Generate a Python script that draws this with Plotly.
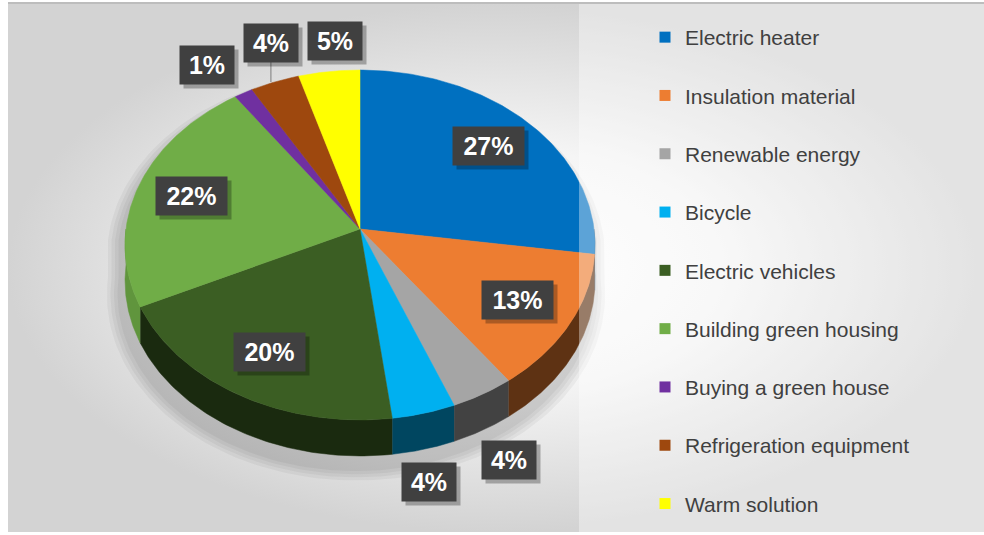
import numpy as np
import plotly.graph_objects as go

# ---------------- data ----------------
categories = ["Electric heater", "Insulation material", "Renewable energy", "Bicycle",
              "Electric vehicles", "Building green housing", "Buying a green house",
              "Refrigeration equipment", "Warm solution"]
values = [27.3, 12.7, 4.0, 4.0, 19.9, 22.4, 1.4, 3.7, 4.6]

# ---------------- style ----------------
colors = ["#0070C0", "#ED7D31", "#A5A5A5", "#00B0F0", "#3B5E23",
          "#70AD47", "#7030A0", "#9E480E", "#FFFF00"]
FONT = "Liberation Sans, Arial, sans-serif"
W, H = 984, 535
cx, cy, rx, ry, k, depth = 360, 229, 234, 173.5, 0.0914, 36

# label placement: ("in", r) inside at radius r, or ("out", dx, dy) from the slice edge
label_place = [("in", 0.76), ("in", 0.76), ("out", 26, 66), ("out", 5, 69),
               ("in", 0.76), ("in", 0.76), ("out", -37, -28), ("out", -4, -39),
               ("out", 6, -31)]


def proj(theta, r=1.0):
    t = np.radians(theta)
    u = r * np.sin(t)
    v = -r * np.cos(t)
    s = 1.0 / (1.0 - k * v)
    return cx + rx * u * s, cy + ry * v * s


def shade(hexc, f):
    h = hexc.lstrip("#")
    r, g, b = (int(h[i:i + 2], 16) for i in (0, 2, 4))
    return "rgb(%d,%d,%d)" % (min(255, r * f), min(255, g * f), min(255, b * f))


total = float(sum(values))
cum = np.concatenate([[0.0], np.cumsum(values)]) / total * 360.0

fig = go.Figure()

# background panel with radial gradient
fig.add_trace(go.Scatter(
    x=[8, W, W, 8, 8], y=[4, 4, 532, 532, 4], mode="lines", line=dict(width=0),
    fill="toself",
    fillgradient=dict(type="radial",
                      colorscale=[[0, "#ffffff"], [0.45, "#f5f5f5"], [1, "#d3d3d3"]]),
    hoverinfo="skip", showlegend=False))

# soft shadow below/around the pie
th_back = np.linspace(-90, 90, 120)
th_front = np.linspace(90, 270, 120)
bx, by = proj(th_back)
fx, fy = proj(th_front)
sil_x = np.concatenate([bx, fx])
sil_y = np.concatenate([by, fy + depth])
scx, scy = cx, cy + depth / 2
for e in [0.06, 0.045, 0.03, 0.015]:
    fig.add_trace(go.Scatter(
        x=scx + (sil_x - scx) * (1 + e) - 4, y=scy + (sil_y - scy) * (1 + e) + 12,
        mode="lines", line=dict(width=0), fill="toself",
        fillcolor="rgba(0,0,0,0.045)", hoverinfo="skip", showlegend=False))

# side walls
for i in range(len(values)):
    a, b = cum[i], cum[i + 1]
    lo, hi = max(a, 90.0), min(b, 270.0)
    if hi <= lo:
        continue
    th = np.linspace(lo, hi, 80)
    px, py = proj(th)
    mid = np.radians((lo + hi) / 2)
    f = 0.4 + 0.5 * max(0.0, -np.sin(mid)) ** 3
    fig.add_trace(go.Scatter(
        x=np.concatenate([px, px[::-1]]), y=np.concatenate([py, (py + depth)[::-1]]),
        mode="lines", line=dict(width=0.5, color=shade(colors[i], f)), fill="toself",
        fillcolor=shade(colors[i], f), hoverinfo="skip", showlegend=False))

# top faces
for i in range(len(values)):
    th = np.linspace(cum[i], cum[i + 1], 120)
    px, py = proj(th)
    fig.add_trace(go.Scatter(
        x=np.concatenate([[cx], px, [cx]]), y=np.concatenate([[cy], py, [cy]]),
        mode="lines", line=dict(width=0.5, color=colors[i]), fill="toself",
        fillcolor=colors[i], name=categories[i],
        hovertemplate=categories[i] + ": %{text}<extra></extra>",
        text=["%.0f%%" % (values[i] / total * 100)] * (len(th) + 2),
        showlegend=False))

# legend entries
for i in range(len(values)):
    fig.add_trace(go.Scatter(
        x=[None], y=[None], mode="markers",
        marker=dict(symbol="square", size=11, color=colors[i]),
        name=categories[i], legendgroup=categories[i], showlegend=True))

# data labels
annotations = []
for i in range(len(values)):
    mid = (cum[i] + cum[i + 1]) / 2
    pl = label_place[i]
    if pl[0] == "in":
        lx, ly = proj(mid, pl[1])
    else:
        ex, ey = proj(mid)
        lx, ly = ex + pl[1], ey + pl[2]
        if i == 7:  # leader line for refrigeration
            fig.add_trace(go.Scatter(x=[lx, lx], y=[ey, ly + 19], mode="lines",
                                     line=dict(color="#8c8c8c", width=1.2),
                                     hoverinfo="skip", showlegend=False))
    txt = "%.0f%%" % (values[i] / total * 100)
    bw = 63 if len(txt) == 3 else 46
    common = dict(x=float(lx), y=float(ly), xref="x", yref="y", showarrow=False,
                  width=bw, height=30, borderpad=4, align="center", valign="middle")
    annotations.append(dict(common, text="&nbsp;", xshift=4, yshift=-4,
                            bgcolor="rgba(0,0,0,0.28)",
                            font=dict(size=24, color="rgba(0,0,0,0)", family=FONT)))
    annotations.append(dict(common, text="<b>%s</b>" % txt, bgcolor="#404040",
                            font=dict(size=25, color="#ffffff", family=FONT)))

fig.update_layout(
    width=W, height=H, margin=dict(l=0, r=0, t=0, b=0),
    paper_bgcolor="#ffffff", plot_bgcolor="rgba(0,0,0,0)",
    xaxis=dict(range=[0, W], visible=False, fixedrange=True),
    yaxis=dict(range=[H, 0], visible=False, fixedrange=True),
    annotations=annotations,
    shapes=[
        dict(type="rect", xref="x", yref="y", x0=579, x1=W, y0=4, y1=532,
             fillcolor="rgba(255,255,255,0.36)", line=dict(width=0), layer="above"),
        dict(type="line", xref="x", yref="y", x0=8, x1=W, y0=3, y1=3,
             line=dict(color="#bdbdbd", width=2), layer="above"),
    ],
    legend=dict(x=645 / W, y=1 - 17 / H, xanchor="left", yanchor="top",
                font=dict(size=21, color="#404040", family=FONT),
                bgcolor="rgba(0,0,0,0)", tracegroupgap=28, itemwidth=30),
    showlegend=True,
)

fig.write_html("out.html", config={"displayModeBar": False},
               post_script="document.body.style.margin='0px';")
